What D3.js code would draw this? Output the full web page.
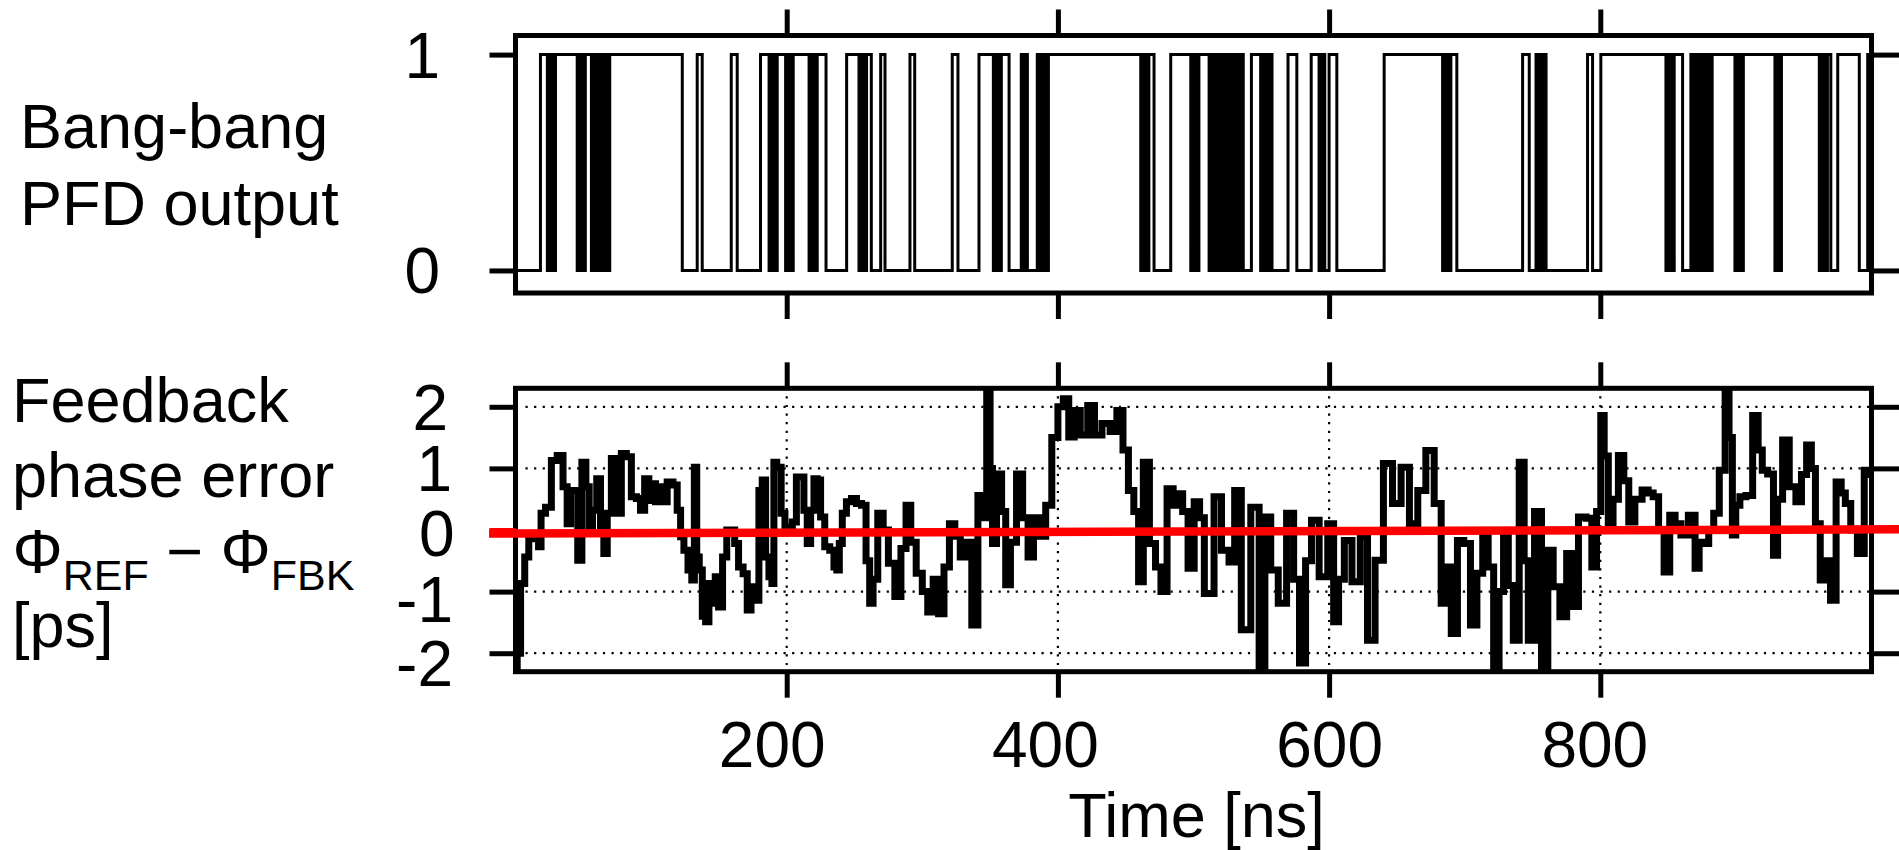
<!DOCTYPE html>
<html><head><meta charset="utf-8">
<script src="https://cdn.jsdelivr.net/npm/d3@7"></script>
<style>
body{margin:0;background:#fff}
text{font-family:"Liberation Sans",Arial,Helvetica,sans-serif;fill:#000}
</style>
</head><body>
<svg id="c" width="1899" height="850"></svg>
<script>
// ---------------- data ----------------
const xTickValues = [200, 400, 600, 800];
const pfdTickValues = [0, 1];
const errTickValues = [-2, -1, 0, 1, 2];
const errGridValues = [-2, -1, 1, 2];
const xLabel = "Time [ns]";
const pfdLabel = ["Bang-bang", "PFD output"];
const errLabel = ["Feedback", "phase error"];

// bang-bang PFD output: [time ns, level] (step after)
const pfdEdges = [
 [0,0],[18.4,1],
 [23.5,0],[25.5,1],[27.5,0],[29.5,1],
 [45.5,0],[47.5,1],[49.5,0],[51.5,1],
 [56,0],[58,1],[60,0],[62,1],
 [63.5,0],[65.5,1],[67.5,0],[69.5,1],
 [123,0],[134,1],[137.7,0],[159.1,1],[163.5,0],[180.7,1],
 [187,0],[189,1],[191,0],[193,1],
 [199.2,0],[201.2,1],[203,0],[204.8,1],
 [216.5,0],[218.5,1],[220.5,0],[222.5,1],
 [229,0],[244.2,1],
 [253.3,0],[255.3,1],[257.1,0],[258.9,1],
 [262.4,0],[269.3,1],[272.5,0],[290.9,1],[294.4,0],[322.1,1],[326.3,0],[341.8,1],
 [352.4,0],[354.4,1],[356.4,0],[358.3,1],
 [364,0],[373,1],[374.5,0],[376,1],[377.5,0],
 [384.8,1],[387,0],[389,1],[391,0],[393,1],
 [461.1,0],[463.1,1],[465.1,0],[467.1,1],
 [470.9,0],[483.2,1],
 [498,0],[500,1],[502,0],[504,1],
 [511.5,0],[513.3,1],[515.1,0],[516.9,1],[518.7,0],[520.5,1],[522.3,0],[524.1,1],
 [525.9,0],[527.7,1],[529.5,0],[531.3,1],[533.1,0],[534.9,1],[536.7,0],
 [542.7,1],
 [549.5,0],[551.6,1],[553.7,0],[555.8,1],[557.9,0],
 [569.7,1],[576.2,0],[586.8,1],
 [592.6,0],[594.7,1],[596.8,0],
 [600,1],[605.7,0],[640.6,1],
 [683.7,0],[685.7,1],[687.7,0],[689.8,1],
 [694.2,0],[742.7,1],[747.6,0],
 [752.6,1],[754.1,0],[755.6,1],[757.1,0],[758.6,1],[760,0],
 [790.6,1],[794.3,0],[800.4,1],
 [848.4,0],[850.4,1],[852.4,0],[854.5,1],
 [860.7,0],[866.8,1],
 [868.5,0],[870.5,1],[872.5,0],[874.5,1],[876.5,0],[878.5,1],[880.5,0],[882.5,1],
 [899.3,0],[901.3,1],[903.3,0],[905.5,1],
 [928.8,0],[930.4,1],[932,0],[933.6,1],
 [961.5,0],[963.5,1],[965.5,0],[967.5,1],
 [970,0],[975.1,1],[991,0],[997.2,1],[1000,1]
];

// feedback phase error Φ_REF − Φ_FBK: [time ns, ps]
const phaseErr = [
 [0,-2.4],[2.5,-2.0],[5,-0.87],[8.6,-0.44],[11,-0.14],[16,-0.11],[18,-0.27],[19.7,0.27],[24.6,0.37],
 [28.3,1.13],[33.2,1.21],[36.9,0.70],[39.3,0.10],[41.8,0.64],[44.3,0.64],[47.5,-0.49],[50.4,1.10],
 [53.4,0.70],[55.3,0],[58.3,0.32],[61.5,0.83],[63.9,0],[66.4,-0.38],[68.9,0.27],[72.5,1.16],[75,0.97],
 [76.2,0.27],[79.9,1.24],[83.6,1.19],[87.3,0.54],[91,0.51],[93.4,0.32],[97.1,0.83],[99.6,0.48],
 [102,0.75],[104.5,0.46],[107,0.70],[109.4,0.46],[114.3,0.78],[118,0.73],[120.5,0.32],[123,-0.11],
 [125.4,-0.33],[129,-0.65],[131,-0.81],[132.8,1.02],[134.5,-0.44],[136.5,-0.65],[139,-1.40],[141.4,-1.49],
 [143.9,-0.87],[146.3,-1.19],[148.3,-0.76],[151.2,-1.25],[154.2,-0.44],[157.4,0],[160.3,0],[163,-0.22],
 [166,-0.60],[169.7,-0.71],[172.1,-1.30],[175.3,-0.92],[178.3,-1.14],[180.7,0.64],[183.2,0.81],
 [185.7,-0.44],[188.1,-0.76],[190.1,-0.87],[191,1.10],[194.3,1.02],[197.5,0.27],[199.9,0],[203,0.05],
 [205.3,0.13],[209,0.86],[211.5,0.86],[213.9,0.32],[216.4,-0.22],[218.9,0.32],[221.3,0.83],[223.8,0.81],
 [226.2,0.21],[229.9,-0.27],[233.6,-0.33],[236.1,-0.60],[237.8,-0.65],[239.8,-0.22],[242.2,0.27],
 [245.9,0.46],[249.6,0.51],[253.3,0.43],
 [257,0.40],[260,-0.5],[262.4,-1.19],[265,-0.8],[269.3,0.27],[273,0.0],[277,-0.54],[282.5,-1.08],
 [286,-0.3],[290,0.40],[293,-0.2],[298,-0.7],[302,-1.0],[306,-1.33],[310,-0.8],[314,-1.36],[318,-0.6],
 [322,0.10],[326,-0.1],[330,-0.44],[334,-0.2],[339,-1.54],[343,0.56],[346,0.2],[349,2.4],[351,1.0],
 [352.5,-0.22],[357,0.91],[360,0.3],[363,-0.89],[367,-0.2],[372,0.91],[376,0.2],[380,-0.44],[384,0.2],
 [389,-0.1],[393,0.4],[398,1.5],[402,2.0],[406,2.13],[410,1.51],[414,1.94],[419,1.54],[425,2.02],
 [429,1.54],[436,1.73],[441,1.6],[446,1.94],[450,1.3],[454,0.64],[458,0.3],[461,-0.84],[465,1.10],
 [470,-0.22],[474,-0.6],[478,-1.00],[483,0.67],[487,0.4],[490,0.59],[494,0.3],[498,-0.62],[503,0.46],
 [506,0.2],[510,-1.03],
 [512.7,-1.03],[517.6,0.54],[523.7,-0.33],[528.7,-0.52],[532,0.64],[538.5,-1.62],[546,0.37],[550.8,-2.4],
 [554.5,0.21],[559.4,-0.65],[565.6,-1.19],[571.7,0.27],[576,-0.8],[580.3,-2.16],[585,-0.5],[589,0.16],
 [596.3,-0.76],[601.7,0.10],[605,-1.49],[609,-0.8],[613.5,-0.17],[620.2,-0.84],[625.8,-0.11],[630.8,-1.79],
 [637,-0.49],[643.1,1.08],[650.4,0.43],[655.8,1.02],[662.7,0.10],[668.1,0.64],[674.6,1.29],[680.4,0.43],
 [684.9,-1.19],[688,-0.6],[692.2,-1.68],[697.1,-0.17],[701.5,-0.22],[707,-1.54],[711,-0.7],[715.6,-0.11],
 [719,-0.6],[723.7,-2.4],[727,-1.0],[730.3,-0.11],[734,-0.9],[737.7,-1.79],[742.7,1.10],[745,-0.5],
 [748.8,-1.79],[754.2,0.30],[759.1,-2.4],[763.5,-0.33],
 [767,-0.92],[773.4,-1.41],[777,-0.38],[780.8,-1.24],[787,0.21],[792,0.19],[795.5,-0.6],[799,0.3],
 [801.7,1.86],[804,1.2],[807.8,0.08],[811,0.5],[815.7,1.21],[819,0.8],[823,0.13],[828,0.5],[833.6,0.65],
 [837,0.6],[841,0.54],[845,0.0],[849.1,-0.68],[853.3,0.24],[857,0.1],[861.9,-0.08],[868,0.24],
 [871.8,-0.62],[874,-0.2],[877.9,-0.22],[882,0.0],[885.3,0.27],[890.2,0.97],[893.9,2.4],[896,1.5],
 [898.8,-0.08],[901,0.4],[904.9,0.54],[909.9,0.56],[914.8,1.86],[918,1.3],[920.9,0.97],[925.9,0.91],
 [929.5,-0.41],[932,0.5],[936.9,1.46],[941.8,0.70],[946.7,0.46],[950,0.9],[954.3,1.38],[957,1.0],
 [960.3,0.10],[964.1,-0.81],[968,-0.5],[971.5,-1.14],[976.3,0.78],[979,0.6],[982.4,0.43],[987,0.0],
 [992.2,-0.38],[997.1,0.97],[1000,0.9]
];

// red zero reference line (from left tick to right edge)
const zeroRef = [[-19.5,-0.057],[1020.3,0.011]];

// ---------------- layout ----------------
const svg = d3.select("#c");
const L = 515.5, R = 1871.5;
const topP = {y0: 35.5, y1: 293};
const botP = {y0: 388.3, y1: 671.7};
const x = d3.scaleLinear().domain([0, 1000]).range([L, R]);
const yTop = d3.scaleLinear().domain([-0.1045, 1.0885]).range([topP.y1, topP.y0]);
const yBot = d3.scaleLinear().domain([-2.3, 2.3]).range([botP.y1, botP.y0]);
const FS = 63, TFS = 64;
const xLabelNudge = new Map([[200,-15],[400,-13],[600,0],[800,-6]]);
const yLabelNudgeX = new Map([[2,-4],[1,0],[0,2.5],[-1,1],[-2,1]]);
const yLabelNudgeY = new Map([[2,0],[1,0],[0,3.5],[-1,7.6],[-2,9.5]]);

// clip paths
const defs = svg.append("defs");
defs.append("clipPath").attr("id","clipTop").append("rect")
  .attr("x", L).attr("y", topP.y0).attr("width", R-L).attr("height", topP.y1-topP.y0);
defs.append("clipPath").attr("id","clipBot").append("rect")
  .attr("x", L).attr("y", botP.y0).attr("width", R-L).attr("height", botP.y1-botP.y0);

function styleAxis(g, showText){
  g.select(".domain").remove();
  g.selectAll(".tick line").attr("stroke","#000").attr("stroke-width",5);
  if(!showText) g.selectAll(".tick text").remove();
  else g.selectAll(".tick text").attr("font-size",TFS).attr("fill","#000")
       .attr("font-family","Liberation Sans, Arial, sans-serif");
}

// ---------------- gridlines (bottom panel) ----------------
const grid = svg.append("g").attr("stroke","#000").attr("stroke-width",2.2)
  .attr("stroke-dasharray","2.2 6.4").attr("fill","none");
grid.selectAll("line.h").data(errGridValues).join("line").attr("class","h")
  .attr("x1", L+10).attr("x2", R).attr("y1", d=>yBot(d)).attr("y2", d=>yBot(d));
grid.selectAll("line.v").data(xTickValues).join("line").attr("class","v")
  .attr("x1", d=>x(d)).attr("x2", d=>x(d)).attr("y1", botP.y0+8).attr("y2", botP.y1);

// ---------------- data lines ----------------
svg.append("path").datum(pfdEdges)
  .attr("clip-path","url(#clipTop)")
  .attr("fill","none").attr("stroke","#000").attr("stroke-width",3)
  .attr("d", d3.line().curve(d3.curveStepAfter).x(d=>x(d[0])).y(d=>yTop(d[1])));

svg.append("path").datum(phaseErr)
  .attr("clip-path","url(#clipBot)")
  .attr("fill","none").attr("stroke","#000").attr("stroke-width",7)
  .attr("stroke-linejoin","miter").attr("stroke-linecap","square")
  .attr("d", d3.line().curve(d3.curveStep).x(d=>x(d[0])).y(d=>yBot(d[1])));

// ---------------- frames ----------------
svg.append("rect").attr("x",L).attr("y",topP.y0).attr("width",R-L).attr("height",topP.y1-topP.y0)
  .attr("fill","none").attr("stroke","#000").attr("stroke-width",5);
svg.append("rect").attr("x",L).attr("y",botP.y0).attr("width",R-L).attr("height",botP.y1-botP.y0)
  .attr("fill","none").attr("stroke","#000").attr("stroke-width",5);

// ---------------- axes ----------------
const TK = 26;
// top panel
svg.append("g").attr("transform",`translate(0,${topP.y0})`)
  .call(d3.axisTop(x).tickValues(xTickValues).tickSize(TK).tickSizeOuter(0)).call(g=>styleAxis(g,false));
svg.append("g").attr("transform",`translate(0,${topP.y1})`)
  .call(d3.axisBottom(x).tickValues(xTickValues).tickSize(TK).tickSizeOuter(0)).call(g=>styleAxis(g,false));
svg.append("g").attr("transform",`translate(${L},0)`)
  .call(d3.axisLeft(yTop).tickValues(pfdTickValues).tickSize(TK).tickSizeOuter(0).tickFormat(d3.format("d")))
  .call(g=>styleAxis(g,true))
  .call(g=>g.selectAll(".tick text").attr("x",440-L).attr("dy","0.35em"));
svg.append("g").attr("transform",`translate(${R},0)`)
  .call(d3.axisRight(yTop).tickValues(pfdTickValues).tickSize(30).tickSizeOuter(0)).call(g=>styleAxis(g,false));

// bottom panel
svg.append("g").attr("transform",`translate(0,${botP.y0})`)
  .call(d3.axisTop(x).tickValues(xTickValues).tickSize(TK).tickSizeOuter(0)).call(g=>styleAxis(g,false));
svg.append("g").attr("transform",`translate(0,${botP.y1})`)
  .call(d3.axisBottom(x).tickValues(xTickValues).tickSize(TK).tickSizeOuter(0).tickPadding(24).tickFormat(d3.format("d")))
  .call(g=>styleAxis(g,true))
  .call(g=>g.selectAll(".tick text").attr("dx",d=>xLabelNudge.get(d)||0));
const yAxL = svg.append("g").attr("transform",`translate(${L},0)`)
  .call(d3.axisLeft(yBot).tickValues(errTickValues).tickSize(TK).tickSizeOuter(0).tickFormat(d3.format("d")))
  .call(g=>styleAxis(g,true))
  .call(g=>g.selectAll(".tick text")
     .attr("x",d=>452-L+(yLabelNudgeX.get(d)||0))
     .attr("y",d=>yLabelNudgeY.get(d)||0)
     .attr("dy","0.35em")
     .text(d=>d<0?"-"+Math.abs(d):String(d)));
yAxL.selectAll(".tick").filter(d=>d===0).call(t=>{
  t.select("line").attr("stroke","#ff0000");
  t.select("text").attr("fill","#ff0000");
});
svg.append("g").attr("transform",`translate(${R},0)`)
  .call(d3.axisRight(yBot).tickValues(errTickValues).tickSize(30).tickSizeOuter(0)).call(g=>styleAxis(g,false));

// red zero line (on top)
svg.append("path").datum(zeroRef)
  .attr("fill","none").attr("stroke","#ff0000").attr("stroke-width",8.5)
  .attr("d", d3.line().x(d=>x(d[0])).y(d=>yBot(d[1])));

// ---------------- text labels ----------------
const lab = svg.append("g").attr("font-size",FS);
pfdLabel.forEach((s,i)=>lab.append("text").attr("x",20).attr("y",148+i*76.6).text(s));
errLabel.forEach((s,i)=>lab.append("text").attr("x",12).attr("y",421.7+i*75).text(s));
const phi = lab.append("text").attr("x",12.5).attr("y",573);
phi.append("tspan").text("Φ");
phi.append("tspan").attr("font-size",43).attr("dy",17).text("REF");
phi.append("tspan").attr("dy",-17).text(" − Φ");
phi.append("tspan").attr("font-size",43).attr("dy",17).text("FBK");
lab.append("text").attr("x",12).attr("y",647).text("[ps]");
lab.append("text").attr("x",(L+R)/2+3).attr("y",837).attr("text-anchor","middle").text(xLabel);
</script>
</body></html>
